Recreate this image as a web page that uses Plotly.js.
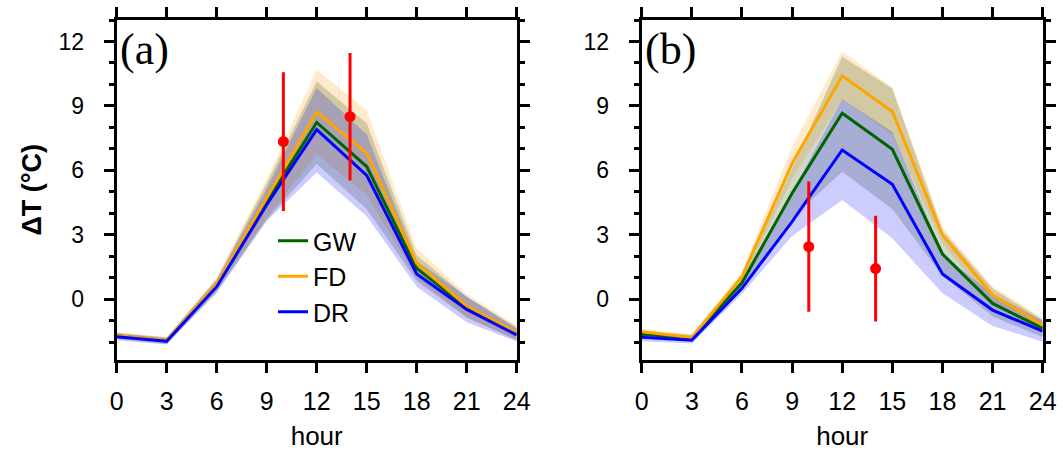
<!DOCTYPE html>
<html>
<head>
<meta charset="utf-8">
<script src="https://cdn.plot.ly/plotly-3.0.1.min.js"></script>
<style>html,body{margin:0;padding:0;background:#fff;}#chart{width:1063px;height:463px;}</style>
</head>
<body>
<div id="chart"></div>
<script>
// ---- data ----
const hours = [0, 3, 6, 9, 12, 15, 18, 21, 24];
const seriesNames = ["GW", "FD", "DR"];
const panelLabels = ["(a)", "(b)"];
const xTickVals = [0, 3, 6, 9, 12, 15, 18, 21, 24];
const yTickVals = [0, 3, 6, 9, 12];

// panel (a)
const gwA   = [-1.70, -1.93, 0.65, 4.55, 8.23, 6.18, 1.44, -0.37, -1.60];
const gwAlo = [-1.85, -2.08, 0.35, 3.70, 6.30, 4.20, 0.85, -0.85, -1.90];
const gwAhi = [-1.55, -1.78, 0.95, 5.40, 10.14, 8.20, 2.05, 0.12, -1.30];
const fdA   = [-1.68, -1.90, 0.72, 4.70, 8.72, 6.80, 1.68, -0.31, -1.55];
const fdAlo = [-1.83, -2.05, 0.42, 3.80, 6.75, 4.85, 0.98, -0.85, -1.90];
const fdAhi = [-1.53, -1.75, 1.02, 5.60, 10.68, 8.80, 2.38, 0.25, -1.20];
const drA   = [-1.74, -1.95, 0.59, 4.40, 7.90, 5.77, 1.18, -0.47, -1.66];
const drAlo = [-1.90, -2.10, 0.29, 3.65, 5.90, 3.87, 0.58, -1.07, -1.96];
const drAhi = [-1.59, -1.80, 0.89, 5.15, 9.83, 7.67, 1.78, 0.13, -1.36];

// panel (b)
const gwB   = [-1.63, -1.80, 0.77, 4.94, 8.66, 6.98, 2.11, -0.19, -1.35];
const gwBlo = [-1.78, -1.95, 0.50, 3.80, 5.94, 4.20, 1.10, -0.80, -1.75];
const gwBhi = [-1.48, -1.65, 1.05, 6.10, 11.30, 9.80, 3.20, 0.50, -0.95];
const fdB   = [-1.51, -1.77, 1.05, 6.33, 10.40, 8.74, 2.99, 0.20, -1.20];
const fdBlo = [-1.65, -1.92, 0.80, 5.60, 9.30, 7.65, 2.60, -0.20, -1.55];
const fdBhi = [-1.37, -1.62, 1.30, 7.10, 11.53, 9.87, 3.38, 0.60, -0.85];
const drB   = [-1.77, -1.90, 0.51, 3.62, 6.95, 5.35, 1.18, -0.50, -1.48];
const drBlo = [-1.95, -2.05, 0.25, 2.95, 4.62, 2.84, 0.28, -1.24, -1.97];
const drBhi = [-1.60, -1.75, 0.80, 5.00, 9.31, 7.80, 2.10, 0.25, -1.00];

// observations (red)
const obsHours = [10, 14];
const obsA = [7.34, 8.50];
const obsAerr = [3.23, 2.97];
const obsB = [2.45, 1.43];
const obsBerr = [3.03, 2.46];

// ---- styling ----
const lineColors = {GW: "#006400", FD: "#FFA500", DR: "#0000FF"};
const bandColors = {GW: "rgba(50,80,20,0.22)", FD: "rgba(255,175,50,0.25)", DR: "rgba(0,0,255,0.20)"};

function band(lo, hi, name, xa, ya) {
  return {
    x: hours.concat(hours.slice().reverse()),
    y: hi.concat(lo.slice().reverse()),
    xaxis: xa, yaxis: ya, type: "scatter", mode: "lines",
    fill: "toself", fillcolor: bandColors[name],
    line: {width: 0, color: "rgba(0,0,0,0)"},
    showlegend: false, hoverinfo: "skip"
  };
}
function line(y, name, xa, ya, show) {
  return {
    x: hours, y: y, xaxis: xa, yaxis: ya, type: "scatter", mode: "lines",
    name: name, line: {color: lineColors[name], width: 3},
    showlegend: show
  };
}
function obs(y, err, xa, ya) {
  return {
    x: obsHours, y: y, xaxis: xa, yaxis: ya, type: "scatter", mode: "markers",
    marker: {color: "#FF0000", size: 11},
    error_y: {type: "data", array: err, visible: true, color: "#FF0000", thickness: 3, width: 0},
    showlegend: false
  };
}

const data = [
  band(fdAlo, fdAhi, "FD", "x", "y"),
  band(gwAlo, gwAhi, "GW", "x", "y"),
  band(drAlo, drAhi, "DR", "x", "y"),
  line(gwA, "GW", "x", "y", true),
  line(fdA, "FD", "x", "y", true),
  line(drA, "DR", "x", "y", true),
  obs(obsA, obsAerr, "x", "y"),
  band(fdBlo, fdBhi, "FD", "x2", "y2"),
  band(gwBlo, gwBhi, "GW", "x2", "y2"),
  band(drBlo, drBhi, "DR", "x2", "y2"),
  line(gwB, "GW", "x2", "y2", false),
  line(fdB, "FD", "x2", "y2", false),
  line(drB, "DR", "x2", "y2", false),
  obs(obsB, obsBerr, "x2", "y2")
];

const W = 1063, H = 463;
const yDom = [1 - 359.5 / H, 1 - 20 / H];
const font = "Liberation Sans, Arial, sans-serif";

function xaxis(domain, anchor) {
  return {
    domain: domain, anchor: anchor, range: [0, 24],
    tickvals: xTickVals, ticktext: xTickVals.map(String),
    ticks: "outside", ticklen: 10, tickwidth: 3, tickcolor: "#000",
    showline: true, linewidth: 3, linecolor: "#000", mirror: "allticks",
    showgrid: false, zeroline: false,
    tickfont: {family: font, size: 25, color: "#000"},
    ticklabelstandoff: 7,
    title: {text: "hour", font: {family: font, size: 26, color: "#000"}, standoff: 14}
  };
}
function yaxis(domain, anchor, withTitle) {
  const ax = {
    domain: domain, anchor: anchor, range: [-2.8, 13],
    tickvals: yTickVals, ticktext: yTickVals.map(String),
    ticks: "outside", ticklen: 10, tickwidth: 3, tickcolor: "#000",
    minor: {dtick: 1, ticks: "outside", ticklen: 5, tickwidth: 3, tickcolor: "#000", showgrid: false},
    showline: true, linewidth: 3, linecolor: "#000", mirror: "allticks",
    showgrid: false, zeroline: false,
    tickfont: {family: font, size: 23, color: "#000"},
    ticklabelstandoff: 15
  };
  if (withTitle) {
    ax.title = {text: "<b>ΔT (°C)</b>", font: {family: font, size: 27, color: "#000"}, standoff: 10};
  }
  return ax;
}

const layout = {
  width: W, height: H,
  margin: {l: 0, r: 0, t: 0, b: 0},
  paper_bgcolor: "#fff", plot_bgcolor: "#fff",
  xaxis: xaxis([116.7 / W, 516.7 / W], "y"),
  yaxis: yaxis(yDom, "x", true),
  xaxis2: xaxis([641.7 / W, 1042.7 / W], "y2"),
  yaxis2: yaxis(yDom, "x2", false),
  showlegend: true,
  legend: {
    x: 273 / W, y: 1 - 218 / H, xanchor: "left", yanchor: "top",
    bgcolor: "rgba(0,0,0,0)", borderwidth: 0,
    font: {family: font, size: 25, color: "#000"},
    itemwidth: 30, tracegroupgap: 0
  },
  annotations: [
    {text: panelLabels[0], xref: "x domain", yref: "y domain", x: 0.003, y: 0.99,
     xanchor: "left", yanchor: "top", showarrow: false,
     font: {family: "Liberation Serif, Times New Roman, serif", size: 44, color: "#000"}},
    {text: panelLabels[1], xref: "x2 domain", yref: "y2 domain", x: 0.003, y: 0.99,
     xanchor: "left", yanchor: "top", showarrow: false,
     font: {family: "Liberation Serif, Times New Roman, serif", size: 44, color: "#000"}}
  ]
};

Plotly.newPlot("chart", data, layout, {staticPlot: true, displayModeBar: false});
</script>
</body>
</html>
